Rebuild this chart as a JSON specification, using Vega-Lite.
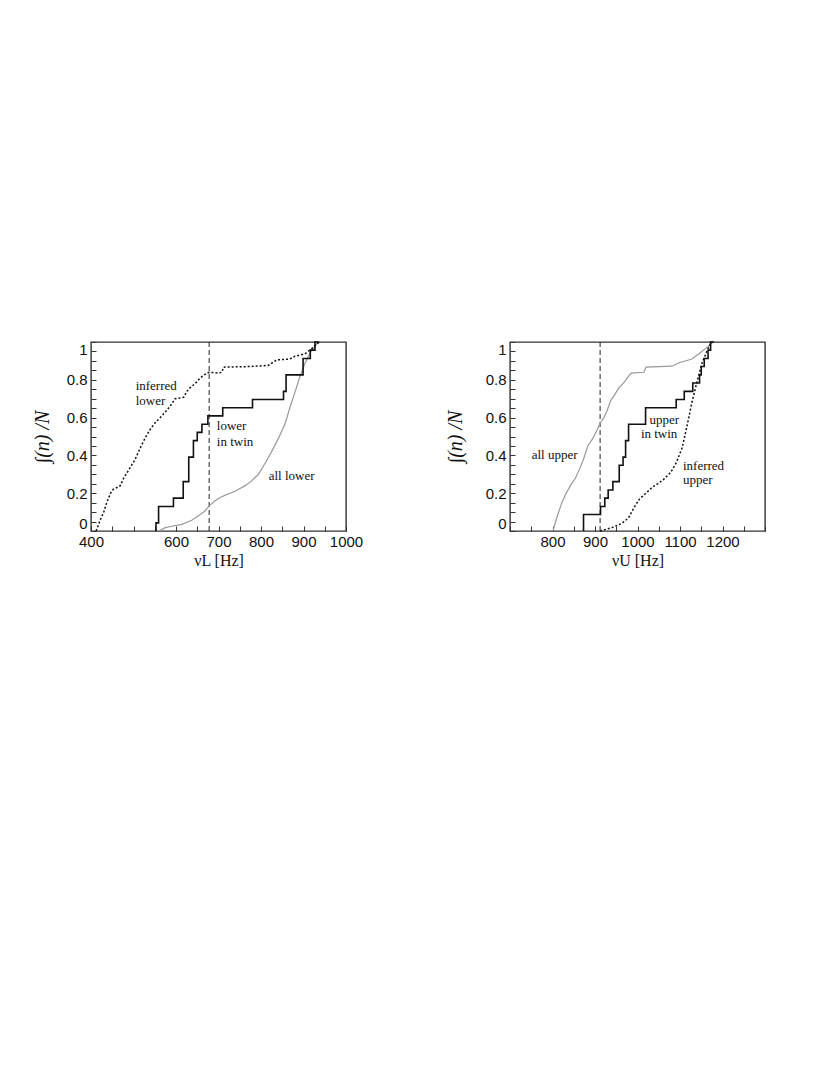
{
  "$schema": "https://vega.github.io/schema/vega-lite/v6.json",
  "background": "white",
  "padding": {"left": 31, "top": 338, "right": 5, "bottom": 5},
  "config": {
    "view": {"stroke": "#333", "strokeWidth": 1.4},
    "axis": {"grid": false, "domain": false, "ticks": true, "tickColor": "#333", "tickSize": -5, "tickWidth": 1,
      "labelFont": "Liberation Sans", "labelFontSize": 15, "labelColor": "#111", "labelPadding": 8,
      "titleFont": "Liberation Serif", "titleFontWeight": "normal", "titleColor": "#111"},
    "text": {"font": "Liberation Serif", "fontSize": 13, "color": "#111", "align": "left", "baseline": "middle"}
  },
  "datasets": {
    "lowerTwin": [
      {"x": 553, "y": 0}, {"x": 553, "y": 0.043}, {"x": 559, "y": 0.13}, {"x": 594, "y": 0.174}, {"x": 617, "y": 0.261},
      {"x": 630, "y": 0.391}, {"x": 641, "y": 0.478}, {"x": 650, "y": 0.522}, {"x": 661, "y": 0.565}, {"x": 675, "y": 0.609},
      {"x": 710, "y": 0.652}, {"x": 780, "y": 0.696}, {"x": 853, "y": 0.739}, {"x": 859, "y": 0.826}, {"x": 899, "y": 0.913},
      {"x": 916, "y": 0.957}, {"x": 927, "y": 1.0}, {"x": 937, "y": 1.0}
    ],
    "allLower": [
      {"x": 559, "y": 0}, {"x": 575, "y": 0.018}, {"x": 590, "y": 0.025}, {"x": 614, "y": 0.035}, {"x": 637, "y": 0.057},
      {"x": 653, "y": 0.08}, {"x": 668, "y": 0.106}, {"x": 678, "y": 0.133}, {"x": 692, "y": 0.16}, {"x": 704, "y": 0.177},
      {"x": 716, "y": 0.19}, {"x": 739, "y": 0.21}, {"x": 763, "y": 0.24}, {"x": 778, "y": 0.265}, {"x": 794, "y": 0.3},
      {"x": 810, "y": 0.36}, {"x": 825, "y": 0.42}, {"x": 841, "y": 0.49}, {"x": 857, "y": 0.57}, {"x": 869, "y": 0.66},
      {"x": 880, "y": 0.735}, {"x": 892, "y": 0.82}, {"x": 904, "y": 0.89}, {"x": 916, "y": 0.945}, {"x": 927, "y": 0.98},
      {"x": 935, "y": 1.0}
    ],
    "inferredLower": [
      {"x": 412, "y": 0}, {"x": 422, "y": 0.06}, {"x": 430, "y": 0.1}, {"x": 437, "y": 0.15}, {"x": 446, "y": 0.2},
      {"x": 452, "y": 0.22}, {"x": 461, "y": 0.23}, {"x": 469, "y": 0.24}, {"x": 477, "y": 0.28}, {"x": 488, "y": 0.32},
      {"x": 504, "y": 0.38}, {"x": 516, "y": 0.44}, {"x": 528, "y": 0.495}, {"x": 540, "y": 0.54}, {"x": 552, "y": 0.575},
      {"x": 563, "y": 0.6}, {"x": 575, "y": 0.63}, {"x": 586, "y": 0.66}, {"x": 598, "y": 0.7}, {"x": 618, "y": 0.707},
      {"x": 626, "y": 0.74}, {"x": 634, "y": 0.76}, {"x": 645, "y": 0.78}, {"x": 657, "y": 0.81}, {"x": 669, "y": 0.83},
      {"x": 678, "y": 0.84}, {"x": 700, "y": 0.836}, {"x": 708, "y": 0.84}, {"x": 712, "y": 0.867}, {"x": 770, "y": 0.87},
      {"x": 817, "y": 0.876}, {"x": 837, "y": 0.905}, {"x": 868, "y": 0.91}, {"x": 880, "y": 0.925}, {"x": 903, "y": 0.937},
      {"x": 919, "y": 0.964}, {"x": 931, "y": 0.99}, {"x": 939, "y": 1.0}
    ],
    "lowerMark": [{"x": 678, "y": 0, "y2": 1}],
    "lowerText": [
      {"x": 505, "y": 0.765, "label": "inferred"}, {"x": 505, "y": 0.69, "label": "lower"},
      {"x": 696, "y": 0.557, "label": "lower"}, {"x": 696, "y": 0.472, "label": "in twin"},
      {"x": 818, "y": 0.292, "label": "all lower"}
    ],
    "upperTwin": [
      {"x": 873, "y": 0}, {"x": 873, "y": 0.087}, {"x": 913, "y": 0.13}, {"x": 923, "y": 0.174}, {"x": 931, "y": 0.217},
      {"x": 942, "y": 0.261}, {"x": 957, "y": 0.348}, {"x": 966, "y": 0.391}, {"x": 972, "y": 0.478}, {"x": 979, "y": 0.565},
      {"x": 1019, "y": 0.652}, {"x": 1091, "y": 0.696}, {"x": 1110, "y": 0.739}, {"x": 1130, "y": 0.783}, {"x": 1146, "y": 0.826},
      {"x": 1150, "y": 0.87}, {"x": 1157, "y": 0.913}, {"x": 1166, "y": 0.957}, {"x": 1172, "y": 1.0}, {"x": 1180, "y": 1.0}
    ],
    "allUpper": [
      {"x": 801, "y": 0}, {"x": 810, "y": 0.07}, {"x": 822, "y": 0.15}, {"x": 832, "y": 0.2}, {"x": 842, "y": 0.24},
      {"x": 854, "y": 0.28}, {"x": 864, "y": 0.33}, {"x": 873, "y": 0.38}, {"x": 883, "y": 0.45}, {"x": 895, "y": 0.49},
      {"x": 904, "y": 0.53}, {"x": 912, "y": 0.57}, {"x": 921, "y": 0.6}, {"x": 929, "y": 0.64}, {"x": 937, "y": 0.69},
      {"x": 946, "y": 0.72}, {"x": 957, "y": 0.76}, {"x": 968, "y": 0.785}, {"x": 976, "y": 0.81}, {"x": 985, "y": 0.835},
      {"x": 1015, "y": 0.84}, {"x": 1020, "y": 0.867}, {"x": 1081, "y": 0.872}, {"x": 1098, "y": 0.89}, {"x": 1128, "y": 0.91},
      {"x": 1146, "y": 0.94}, {"x": 1160, "y": 0.965}, {"x": 1175, "y": 0.995}, {"x": 1179, "y": 1.0}
    ],
    "inferredUpper": [
      {"x": 912, "y": 0}, {"x": 940, "y": 0.018}, {"x": 963, "y": 0.04}, {"x": 979, "y": 0.07}, {"x": 992, "y": 0.125},
      {"x": 1005, "y": 0.17}, {"x": 1020, "y": 0.2}, {"x": 1034, "y": 0.23}, {"x": 1048, "y": 0.25}, {"x": 1062, "y": 0.274},
      {"x": 1078, "y": 0.31}, {"x": 1091, "y": 0.36}, {"x": 1105, "y": 0.44}, {"x": 1116, "y": 0.55}, {"x": 1128, "y": 0.68},
      {"x": 1140, "y": 0.79}, {"x": 1152, "y": 0.89}, {"x": 1164, "y": 0.955}, {"x": 1174, "y": 1.0}
    ],
    "upperMark": [{"x": 912, "y": 0, "y2": 1}],
    "upperText": [
      {"x": 751, "y": 0.4, "label": "all upper"},
      {"x": 1028, "y": 0.588, "label": "upper"}, {"x": 1008, "y": 0.512, "label": "in twin"},
      {"x": 1107, "y": 0.345, "label": "inferred"}, {"x": 1107, "y": 0.27, "label": "upper"}
    ]
  },
  "spacing": 164,
  "bounds": "flush",
  "hconcat": [
    {
      "width": 255, "height": 189,
      "encoding": {
        "x": {"field": "x", "type": "quantitative",
          "scale": {"domain": [400, 1000], "nice": false, "zero": false},
          "axis": {"values": [400,450,500,550,600,650,700,750,800,850,900,950,1000],
            "labelExpr": "indexof([400,600,700,800,900,1000], datum.value) >= 0 ? format(datum.value,'d') : ''",
            "labelFlush": false, "title": "νL [Hz]", "titleFontSize": 16, "titlePadding": 3}},
        "y": {"field": "y", "type": "quantitative",
          "scale": {"domain": [0, 1], "nice": false},
          "axis": {"values": [0,0.05,0.1,0.15,0.2,0.25,0.3,0.35,0.4,0.45,0.5,0.55,0.6,0.65,0.7,0.75,0.8,0.85,0.9,0.95,1],
            "labelExpr": "abs(datum.value*5 - round(datum.value*5)) < 0.001 ? format(datum.value,'~g') : ''",
            "labelFlush": true, "labelPadding": 9, "title": "∫(n) /N", "titleFontSize": 20, "titleFontStyle": "italic", "titlePadding": 14}}
      },
      "layer": [
        {"data": {"name": "lowerMark"}, "mark": {"type": "rule", "color": "#222", "strokeWidth": 1, "strokeDash": [5, 3]},
          "encoding": {"y2": {"field": "y2"}}},
        {"data": {"name": "allLower"}, "mark": {"type": "line", "color": "#999", "strokeWidth": 1.2}},
        {"data": {"name": "inferredLower"}, "mark": {"type": "line", "color": "#111", "strokeWidth": 1.5, "strokeDash": [2, 2]}},
        {"data": {"name": "lowerTwin"}, "mark": {"type": "line", "color": "#111", "strokeWidth": 1.6, "interpolate": "step-after"}},
        {"data": {"name": "lowerText"}, "mark": {"type": "text"}, "encoding": {"text": {"field": "label"}}}
      ]
    },
    {
      "width": 255, "height": 189,
      "encoding": {
        "x": {"field": "x", "type": "quantitative",
          "scale": {"domain": [700, 1300], "nice": false, "zero": false},
          "axis": {"values": [700,750,800,850,900,950,1000,1050,1100,1150,1200,1250,1300],
            "labelExpr": "indexof([800,900,1000,1100,1200], datum.value) >= 0 ? format(datum.value,'d') : ''",
            "labelFlush": false, "title": "νU [Hz]", "titleFontSize": 16, "titlePadding": 3}},
        "y": {"field": "y", "type": "quantitative",
          "scale": {"domain": [0, 1], "nice": false},
          "axis": {"values": [0,0.05,0.1,0.15,0.2,0.25,0.3,0.35,0.4,0.45,0.5,0.55,0.6,0.65,0.7,0.75,0.8,0.85,0.9,0.95,1],
            "labelExpr": "abs(datum.value*5 - round(datum.value*5)) < 0.001 ? format(datum.value,'~g') : ''",
            "labelFlush": true, "labelPadding": 9, "title": "∫(n) /N", "titleFontSize": 20, "titleFontStyle": "italic", "titlePadding": 20}}
      },
      "layer": [
        {"data": {"name": "upperMark"}, "mark": {"type": "rule", "color": "#222", "strokeWidth": 1, "strokeDash": [5, 3]},
          "encoding": {"y2": {"field": "y2"}}},
        {"data": {"name": "allUpper"}, "mark": {"type": "line", "color": "#999", "strokeWidth": 1.2}},
        {"data": {"name": "inferredUpper"}, "mark": {"type": "line", "color": "#111", "strokeWidth": 1.5, "strokeDash": [2, 2]}},
        {"data": {"name": "upperTwin"}, "mark": {"type": "line", "color": "#111", "strokeWidth": 1.6, "interpolate": "step-after"}},
        {"data": {"name": "upperText"}, "mark": {"type": "text"}, "encoding": {"text": {"field": "label"}}}
      ]
    }
  ]
}
